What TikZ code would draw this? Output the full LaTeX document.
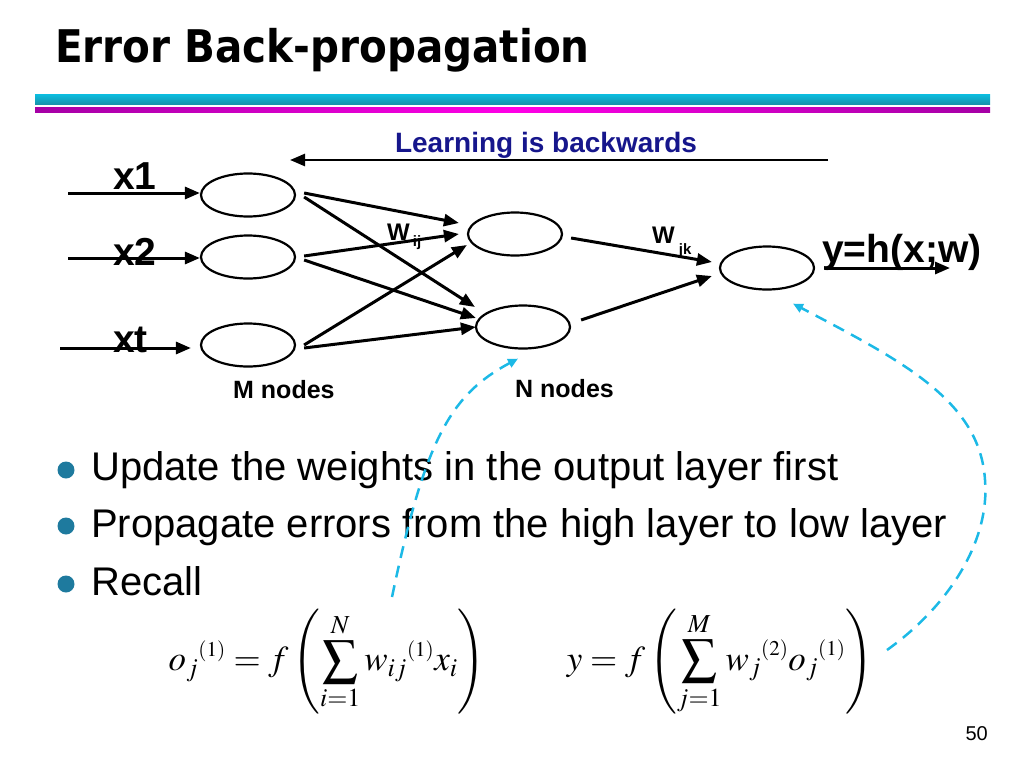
\documentclass[tikz,border=0pt]{standalone}
\usepackage{mathptmx}
\usepackage[no-math]{fontspec}
\setmainfont{Liberation Sans}
\newfontfamily\titlefont{DejaVu Sans Condensed}
\usepackage{tikz}
\usetikzlibrary{arrows.meta,positioning,shapes.geometric}
\definecolor{barcyantop}{RGB}{12,190,225}
\definecolor{barcyanbot}{RGB}{22,148,172}
\definecolor{barmagedge}{RGB}{165,0,165}
\definecolor{barmagmid}{RGB}{255,0,230}
\definecolor{learnblue}{RGB}{22,22,140}
\definecolor{dashcyan}{RGB}{28,185,230}
\definecolor{dotblue}{RGB}{30,122,158}
\newcommand{\px}[1]{\fontsize{#1}{#1}\selectfont}

\begin{document}
\begin{tikzpicture}[x=1pt, y=-1pt,
  neuron/.style={draw, ellipse, line width=2.2pt, minimum width=94pt, minimum height=43pt, inner sep=0pt},
  link/.style={line width=3pt, -{Triangle[length=15pt,width=12pt]}},
  inlabel/.style={anchor=base west, inner sep=0pt, font=\bfseries\px{39}},
  layer/.style={anchor=base west, inner sep=0pt, font=\bfseries\px{25}},
  weight/.style={anchor=base west, inner sep=0pt, font=\bfseries\px{24}},
  item/.style={anchor=base west, inner sep=0pt, font=\px{40}},
  backprop/.style={draw=dashcyan, line width=2.5pt, dash pattern=on 12pt off 8pt, -{Triangle[length=10pt,width=9pt]}}]
  \useasboundingbox (0,0) rectangle (1024,768);

  % title and bars
  \node[anchor=base west, inner sep=0pt, font=\titlefont\bfseries\px{45}] (title) at (55,63) {Error Back-propagation};
  \shade[top color=barcyantop, bottom color=barcyanbot] (35,94) rectangle (990,104);
  \shade[left color=barmagedge, right color=barmagedge, middle color=barmagmid] (35,107) rectangle (990,112);

  % learning direction
  \node[anchor=base, inner sep=0pt, font=\bfseries\px{28}, text=learnblue] (learn) at (546,152) {Learning is backwards};
  \coordinate (lfrom) at (828,160);
  \coordinate (lto) at (290,160);
  \draw[link, line width=2.5pt] (lfrom) -- (lto);

  % neurons
  \node[neuron] (m1) at (248,195) {};
  \node[neuron] (m2) at (248,257) {};
  \node[neuron] (m3) at (248,345) {};
  \node[neuron] (h1) at (515,234) {};
  \node[neuron] (h2) at (523,327) {};
  \node[neuron] (out) at (767,268) {};

  % inputs
  \node[inlabel] (x1) at (113,189) {x1};
  \node[inlabel] (x2) at (113,265) {x2};
  \node[inlabel] (xt) at (113,352) {xt};
  \coordinate (in1) at (68,193);
  \coordinate (in2) at (68,258);
  \coordinate (in3) at (60,348);
  \draw[link] (in1) -- (in1 -| m1.west);
  \draw[link] (in2) -- (in2 -| m2.west);
  \draw[link, shorten >=9pt] (in3) -- (in3 -| m3.west);

  % first layer of weights
  \draw[link] ([xshift=8pt,yshift=2pt]m1.east) -- ([xshift=-8pt,yshift=11pt]h1.west);
  \draw[link] ([xshift=8pt,yshift=-2pt]m1.east) -- ([yshift=20pt]h2.west);
  \draw[link] ([xshift=8pt,yshift=1pt]m2.east) -- ([xshift=-8pt]h1.west);
  \draw[link] ([xshift=8pt,yshift=-3pt]m2.east) -- ([xshift=1pt,yshift=9pt]h2.west);
  \draw[link] ([xshift=8pt]m3.east) -- ([yshift=-11pt]h1.west);
  \draw[link] ([xshift=8pt,yshift=-3pt]m3.east) -- ([xshift=1pt]h2.west);
  \node[weight] (wij) at (387,240) {W\hspace{3pt}\raisebox{-6pt}{\px{15}ij}};

  % second layer of weights
  \draw[link] ([xshift=8pt,yshift=-4pt]h1.east) -- ([xshift=-7pt,yshift=6pt]out.west);
  \draw[link] ([xshift=10pt,yshift=7pt]h2.east) -- ([xshift=-7pt,yshift=-8pt]out.west);
  \node[weight] (wjk) at (652,243) {W\hspace{4pt}\raisebox{-11pt}{\px{15}jk}};

  % output
  \coordinate (yend) at (950,268);
  \draw[link] ([xshift=10pt]out.east) -- (yend);
  \node[inlabel] (ylab) at (822,262) {y=h(x;w)};

  \node[layer] (mnodes) at (233,398) {M nodes};
  \node[layer] (nnodes) at (515,397) {N nodes};

  % bullets
  \fill[dotblue] (66,470) circle (8.5pt);
  \fill[dotblue] (66,526) circle (8.5pt);
  \fill[dotblue] (66,584) circle (8.5pt);
  \node[item] (b1) at (91,480) {Update the weights in the output layer first};
  \node[item] (b2) at (91,537) {Propagate errors from the high layer to low layer};
  \node[item] (b3) at (91,595) {Recall};

  % formulas
  \node[inner sep=0pt, font=\px{35}] (eq1) at (327,662)
    {$\displaystyle o_j{}^{\scriptscriptstyle(1)} = f\left(\sum_{i=1}^{N} w_{ij}{}^{\scriptscriptstyle(1)} x_i\right)$};
  \node[inner sep=0pt, font=\px{35}] (eq2) at (720,662)
    {$\displaystyle y = f\left(\sum_{j=1}^{M} w_j{}^{\scriptscriptstyle(2)} o_j{}^{\scriptscriptstyle(1)}\right)$};

  % back-propagation paths
  \coordinate (c1) at (392,597);
  \draw[backprop] (c1) .. controls (425,440) and (450,395) .. ([xshift=-5pt,yshift=-9pt]h2.south);
  \coordinate (c2) at (887,650);
  \draw[backprop] (c2) .. controls (950,605) and (990,540) .. (985,480)
    .. controls (980,400) and (900,360) .. ([xshift=26pt,yshift=-13pt]out.south);

  \node[anchor=base east, inner sep=0pt, font=\px{20}] (page) at (988,740) {50};
\end{tikzpicture}
\end{document}
